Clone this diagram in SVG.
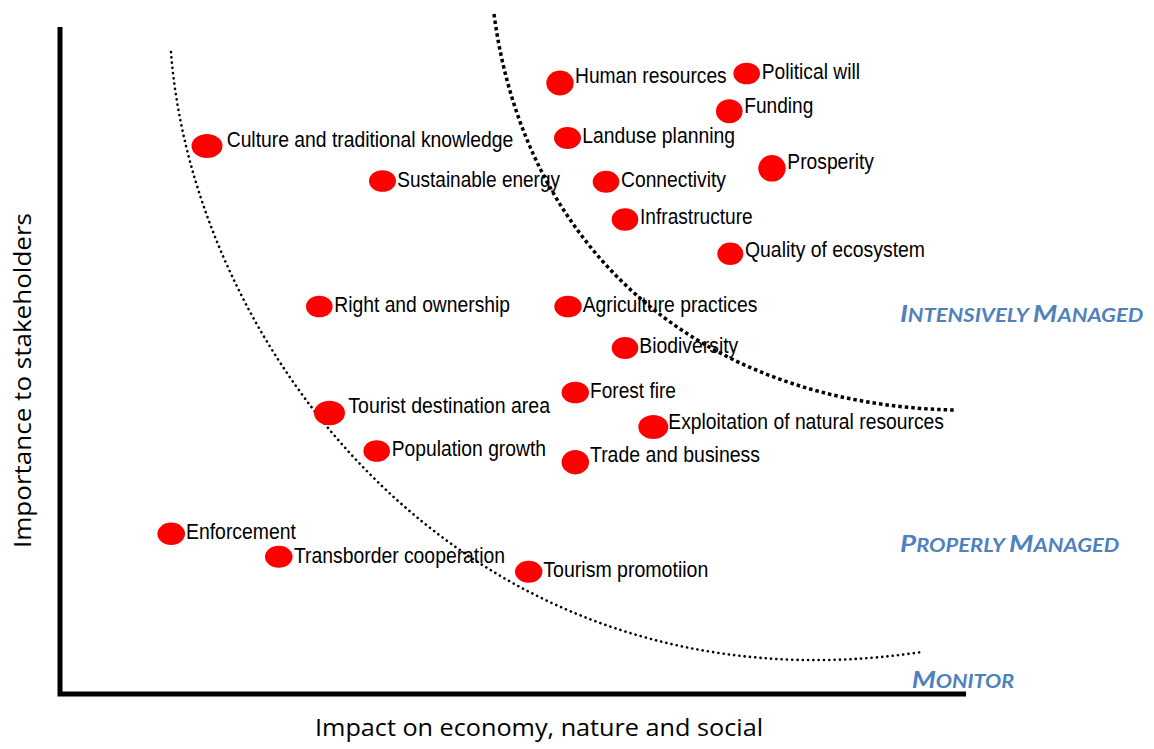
<svg xmlns="http://www.w3.org/2000/svg" width="1154" height="749" viewBox="0 0 1154 749">
<style>
.dot{fill:#FF0000}
.lbl{font-family:"Liberation Sans",Arial,sans-serif;font-size:22px;fill:#000}
.zone{font-family:Lato,"Open Sans",sans-serif;font-weight:bold;font-style:italic;fill:#4F81BD}
.axis{font-family:"Open Sans","Liberation Sans",sans-serif;font-size:24px;fill:#000}
</style>
<rect width="1154" height="749" fill="#fff"/>
<g id="axes">
<polyline points="60,27 60,694 966,694" fill="none" stroke="#000" stroke-width="5"/>
</g>
<g id="curves" fill="none" stroke="#000">
<path d="M171,52 C193,345 465,720 922,652" stroke-width="2.6" stroke-dasharray="0.1 5.2" stroke-linecap="round"/>
<path d="M494,14 C525,250 700,405 955,410" stroke-width="3.5" stroke-dasharray="3.5 3"/>
</g>
<g id="n-culture"><ellipse class="dot" cx="207" cy="146" rx="15.5" ry="12"/><text class="lbl" x="226.7" y="147.3" textLength="286.6" lengthAdjust="spacingAndGlyphs">Culture and traditional knowledge</text></g>
<g id="n-sustainable"><ellipse class="dot" cx="382.5" cy="181" rx="13.5" ry="10.8"/><text class="lbl" x="397.3" y="186.7" textLength="162.7" lengthAdjust="spacingAndGlyphs">Sustainable energy</text></g>
<g id="n-human"><ellipse class="dot" cx="560" cy="83" rx="13.7" ry="12.5"/><text class="lbl" x="575" y="83.3" textLength="151.7" lengthAdjust="spacingAndGlyphs">Human resources</text></g>
<g id="n-political"><ellipse class="dot" cx="746.7" cy="73.5" rx="13.3" ry="10.8"/><text class="lbl" x="761.7" y="79" textLength="98.3" lengthAdjust="spacingAndGlyphs">Political will</text></g>
<g id="n-funding"><ellipse class="dot" cx="729.3" cy="111.3" rx="13.3" ry="12"/><text class="lbl" x="744.3" y="113.3" textLength="69" lengthAdjust="spacingAndGlyphs">Funding</text></g>
<g id="n-landuse"><ellipse class="dot" cx="567.5" cy="138" rx="13.5" ry="11"/><text class="lbl" x="582.3" y="142.7" textLength="152.7" lengthAdjust="spacingAndGlyphs">Landuse planning</text></g>
<g id="n-prosperity"><ellipse class="dot" cx="772" cy="168.3" rx="13.7" ry="13.3"/><text class="lbl" x="787.3" y="169.3" textLength="86.7" lengthAdjust="spacingAndGlyphs">Prosperity</text></g>
<g id="n-connectivity"><ellipse class="dot" cx="606" cy="181.7" rx="13.3" ry="11"/><text class="lbl" x="621" y="187.3" textLength="105" lengthAdjust="spacingAndGlyphs">Connectivity</text></g>
<g id="n-infrastructure"><ellipse class="dot" cx="625" cy="219.5" rx="13.3" ry="11.2"/><text class="lbl" x="640" y="224" textLength="112.7" lengthAdjust="spacingAndGlyphs">Infrastructure</text></g>
<g id="n-quality"><ellipse class="dot" cx="730.3" cy="253.8" rx="13" ry="11.2"/><text class="lbl" x="745" y="257.3" textLength="180" lengthAdjust="spacingAndGlyphs">Quality of ecosystem</text></g>
<g id="n-right"><ellipse class="dot" cx="319.3" cy="306.5" rx="13.3" ry="10.8"/><text class="lbl" x="334.3" y="311.7" textLength="175.7" lengthAdjust="spacingAndGlyphs">Right and ownership</text></g>
<g id="n-agriculture"><ellipse class="dot" cx="568" cy="306.5" rx="13.7" ry="10.8"/><text class="lbl" x="582.7" y="311.7" textLength="174.6" lengthAdjust="spacingAndGlyphs">Agriculture practices</text></g>
<g id="n-biodiversity"><ellipse class="dot" cx="625" cy="348" rx="13.3" ry="11"/><text class="lbl" x="639.3" y="353.3" textLength="99" lengthAdjust="spacingAndGlyphs">Biodiversity</text></g>
<g id="n-forest"><ellipse class="dot" cx="575.3" cy="392.5" rx="13.7" ry="10.8"/><text class="lbl" x="590" y="397.7" textLength="86" lengthAdjust="spacingAndGlyphs">Forest fire</text></g>
<g id="n-tourist"><ellipse class="dot" cx="329.5" cy="413" rx="15.5" ry="12.2"/><text class="lbl" x="348.3" y="413.3" textLength="201.7" lengthAdjust="spacingAndGlyphs">Tourist destination area</text></g>
<g id="n-exploitation"><ellipse class="dot" cx="653.3" cy="427" rx="15" ry="12"/><text class="lbl" x="668.3" y="429" textLength="275.7" lengthAdjust="spacingAndGlyphs">Exploitation of natural resources</text></g>
<g id="n-population"><ellipse class="dot" cx="376.7" cy="451" rx="13.3" ry="10.8"/><text class="lbl" x="391.7" y="456" textLength="154.3" lengthAdjust="spacingAndGlyphs">Population growth</text></g>
<g id="n-trade"><ellipse class="dot" cx="575.3" cy="462.2" rx="13.7" ry="12.2"/><text class="lbl" x="590" y="461.7" textLength="170" lengthAdjust="spacingAndGlyphs">Trade and business</text></g>
<g id="n-enforcement"><ellipse class="dot" cx="171.2" cy="533.8" rx="13.8" ry="11.2"/><text class="lbl" x="186" y="539.3" textLength="110" lengthAdjust="spacingAndGlyphs">Enforcement</text></g>
<g id="n-transborder"><ellipse class="dot" cx="278.8" cy="556.7" rx="13.8" ry="11"/><text class="lbl" x="294" y="562.7" textLength="211" lengthAdjust="spacingAndGlyphs">Transborder cooperation</text></g>
<g id="n-tourism"><ellipse class="dot" cx="528.7" cy="571.7" rx="13.7" ry="11"/><text class="lbl" x="543.3" y="577.3" textLength="165" lengthAdjust="spacingAndGlyphs">Tourism promotiion</text></g>
<g id="zones">
<text class="zone" x="900" y="321.7" textLength="243.3" lengthAdjust="spacingAndGlyphs"><tspan font-size="23.5">I</tspan><tspan font-size="18.5">NTENSIVELY </tspan><tspan font-size="23.5">M</tspan><tspan font-size="18.5">ANAGED</tspan></text>
<text class="zone" x="900" y="551.7" textLength="219.3" lengthAdjust="spacingAndGlyphs"><tspan font-size="23.5">P</tspan><tspan font-size="18.5">ROPERLY </tspan><tspan font-size="23.5">M</tspan><tspan font-size="18.5">ANAGED</tspan></text>
<text class="zone" x="911.7" y="688.3" textLength="102.6" lengthAdjust="spacingAndGlyphs"><tspan font-size="23.5">M</tspan><tspan font-size="18.5">ONITOR</tspan></text>
</g>
<g id="axis-labels">
<text class="axis" x="315" y="736" textLength="448" lengthAdjust="spacingAndGlyphs">Impact on economy, nature and social</text>
<text class="axis" transform="translate(31,548) rotate(-90)" x="0" y="0" textLength="335" lengthAdjust="spacingAndGlyphs">Importance to stakeholders</text>
</g>
</svg>
